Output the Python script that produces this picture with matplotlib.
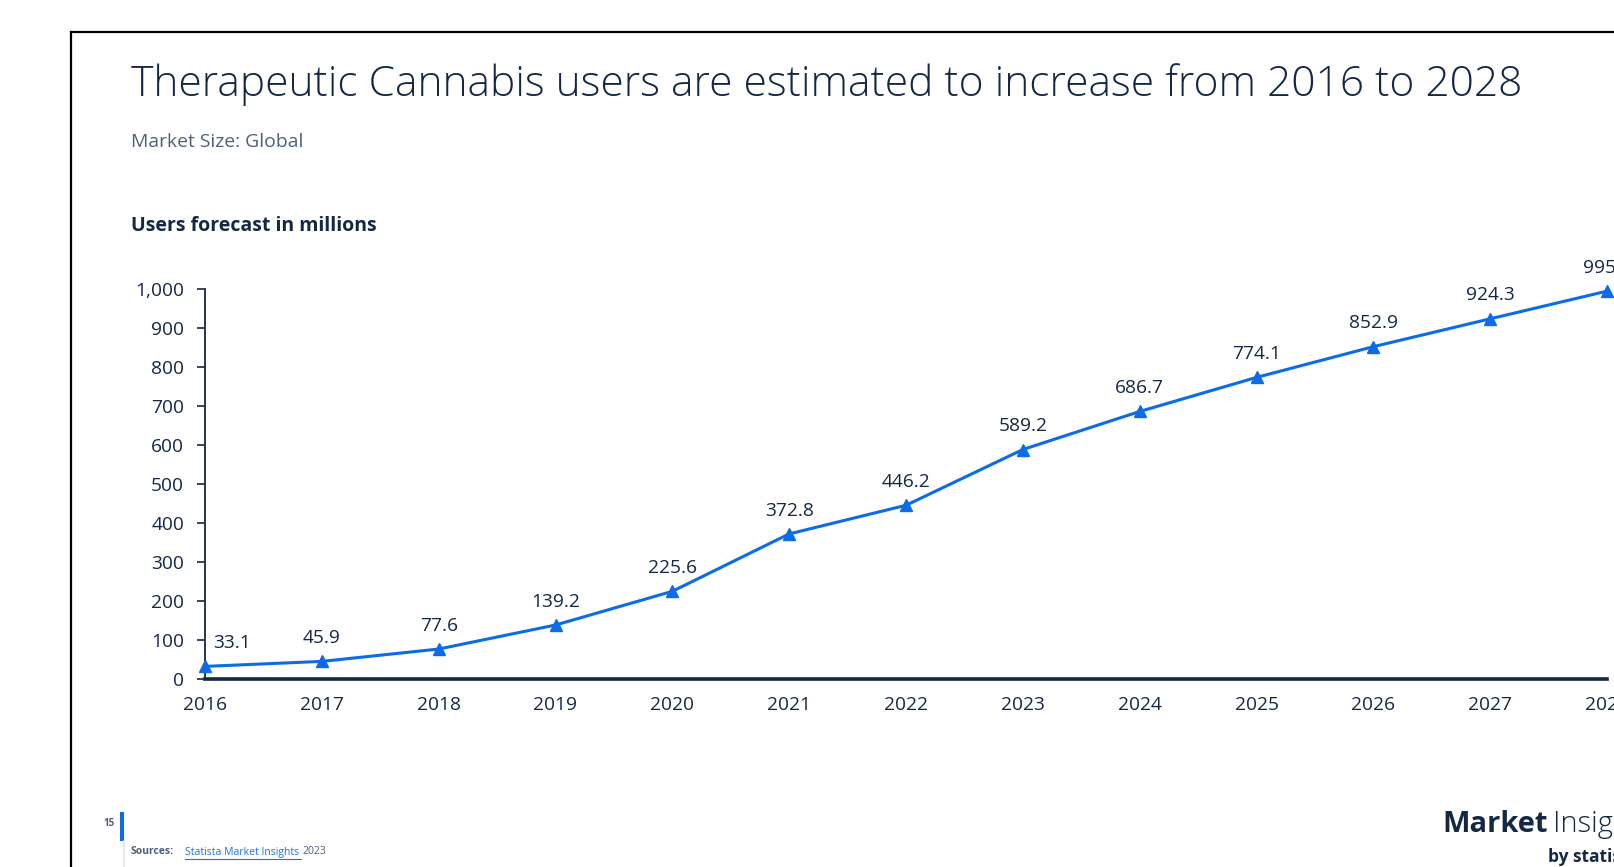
import matplotlib
matplotlib.use("Agg")
import matplotlib.pyplot as plt
from matplotlib.lines import Line2D
from matplotlib.patches import Rectangle

# ---- data ----
years = [2016, 2017, 2018, 2019, 2020, 2021, 2022, 2023, 2024, 2025, 2026, 2027, 2028]
users = [33.1, 45.9, 77.6, 139.2, 225.6, 372.8, 446.2, 589.2, 686.7, 774.1, 852.9, 924.3, 995.3]
y_ticks = [0, 100, 200, 300, 400, 500, 600, 700, 800, 900, 1000]
title = "Therapeutic Cannabis users are estimated to increase from 2016 to 2028"
subtitle = "Market Size: Global"
chart_label = "Users forecast in millions"

W, H = 1615, 867
DPI = 100
NAVY = "#142845"
GREY = "#4f6079"
BLUE = "#0c6be6"

plt.rcParams['font.family'] = ['Open Sans', 'DejaVu Sans']

fig = plt.figure(figsize=(W / DPI, H / DPI), dpi=DPI)
fig.patch.set_facecolor("white")


def fx(x):
    return x / W


def fy(y):
    return 1 - y / H


renderer = fig.canvas.get_renderer()


def fit_text(x, y, s, target_w, size, **kw):
    t = fig.text(fx(x), fy(y), s, fontsize=size, **kw)
    w = t.get_window_extent(renderer).width
    if w > 0:
        t.set_fontsize(size * target_w / w)
    return t


# frame lines
fig.add_artist(Line2D([fx(71), fx(71)], [fy(867), fy(32)], color="black", lw=1.6))
fig.add_artist(Line2D([fx(71), fx(1615)], [fy(32), fy(32)], color="black", lw=1.6))

# titles
fit_text(131, 96, title, 1394, 24, color=NAVY, fontweight="light", va="baseline")
fit_text(131, 147, subtitle, 172, 13, color=GREY, va="baseline")
fit_text(131, 231, chart_label, 243, 13, color=NAVY, fontweight="bold", va="baseline")

# axes
x0, x1 = 205, 1607
ytop, ybot = 289.3, 679.3
ax = fig.add_axes([fx(x0), fy(ybot), (x1 - x0) / W, (ybot - ytop) / H])
ax.set_xlim(years[0], years[-1])
ax.set_ylim(0, 1000)
ax.plot(years, users, color=BLUE, lw=2.2, marker="^", markersize=8, clip_on=False, zorder=5)

for sp in ["top", "right"]:
    ax.spines[sp].set_visible(False)
ax.spines["left"].set_color(NAVY)
ax.spines["left"].set_linewidth(1.3)
ax.spines["bottom"].set_color(NAVY)
ax.spines["bottom"].set_linewidth(2.6)
ax.spines["bottom"].set_zorder(1)

ax.set_yticks(y_ticks)
ax.set_yticklabels([f"{v:,}" for v in y_ticks])
ax.set_xticks(years)
ax.set_xticklabels([str(y) for y in years])
ax.tick_params(axis="y", length=6, width=1.2, color=NAVY, labelcolor=NAVY, labelsize=13.8, pad=9)
ax.tick_params(axis="x", length=0, labelcolor=NAVY, labelsize=13.8, pad=12)
for lab in ax.get_xticklabels() + ax.get_yticklabels():
    lab.set_clip_on(False)

for i, (x, v) in enumerate(zip(years, users)):
    if i == 0:
        ax.annotate(f"{v:.1f}", (x, v), xytext=(6, 17), textcoords="offset points",
                    ha="left", va="center", fontsize=13.8, color=NAVY, annotation_clip=False)
    else:
        ax.annotate(f"{v:.1f}", (x, v), xytext=(0, 16.8), textcoords="offset points",
                    ha="center", va="center", fontsize=13.8, color=NAVY, annotation_clip=False)

# footer
fig.add_artist(Rectangle((fx(120), fy(841)), 4.5 / W, 29 / H, color=BLUE, lw=0))
fig.add_artist(Line2D([fx(124.5), fx(124.5)], [fy(841), fy(867)], color="#e3e6ea", lw=1.2))
fig.text(fx(115), fy(823), "15", fontsize=7, color=GREY, fontweight="bold", ha="right", va="center")
fig.text(fx(131), fy(852), "Sources:", fontsize=7.5, color=GREY, fontweight="bold", va="center")
fig.text(fx(185), fy(852), "Statista Market Insights", fontsize=7.5, color="#1a73e8", va="center")
fig.add_artist(Line2D([fx(185), fx(301)], [fy(858.5), fy(858.5)], color="#1a73e8", lw=0.8))
fig.text(fx(302), fy(852), "2023", fontsize=7.5, color=GREY, va="center")

t1 = fig.text(fx(1442), fy(824), "Market", fontsize=21, color=NAVY, fontweight="bold", va="center")
fig.canvas.draw()
bb = t1.get_window_extent(renderer)
fig.text(fx(bb.x1 + 6), fy(824), "Insights", fontsize=21, color=NAVY, fontweight="light", va="center")
fig.text(fx(1548), fy(857), "by statista", fontsize=12.5, color=NAVY, fontweight="bold", va="center")

fig.savefig("out.png", dpi=DPI)
